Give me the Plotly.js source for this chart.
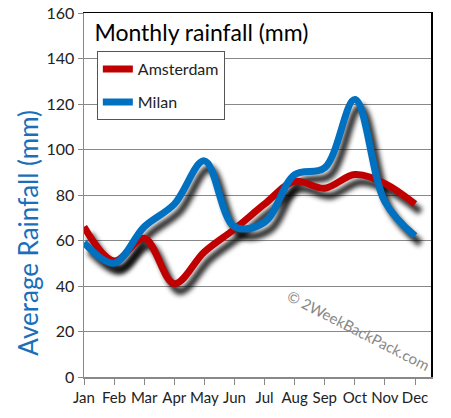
<!DOCTYPE html>
<html>
<head>
<meta charset="utf-8">
<script src="https://cdn.plot.ly/plotly-3.0.1.min.js"></script>
<style>html,body{margin:0;padding:0;background:#fff;}#chart{width:451px;height:418px;}</style>
</head>
<body>
<div id="chart"></div>
<script>
const months = ['Jan','Feb','Mar','Apr','May','Jun','Jul','Aug','Sep','Oct','Nov','Dec'];
const amsterdam = [66, 51, 61, 41, 55, 65, 76, 86, 83, 89, 85, 76];
const milan = [59, 50, 66, 76, 95, 66, 68, 89, 92, 122, 77, 62];
const seriesNames = ['Amsterdam', 'Milan'];
const yTicks = [0, 20, 40, 60, 80, 100, 120, 140, 160];

const RED = '#c00000', BLUE = '#0070c0';
const FONT = 'Lato, "Noto Sans", sans-serif';
const xr = [0, 11.53];
const yr = [0, 160];
const sdx = 0.18, sdy = 3.4; // shadow offset in axis units

function line(y, color, xa, ya, name, show, group) {
  return {x: months, y: y, type: 'scatter', mode: 'lines', name: name,
    xaxis: xa, yaxis: ya, showlegend: show, legendgroup: group,
    line: {color: color, width: 7, shape: 'spline', smoothing: 1},
    hoverinfo: 'skip'};
}

const base = line(amsterdam, 'rgba(0,0,0,0)', 'x', 'y', 'base', false, 'a');
base.line.width = 0;

const data = [
  base,
  line(amsterdam, 'rgba(0,0,0,0.85)', 'x2', 'y2', 'sa', false, 'a'),
  line(milan, 'rgba(0,0,0,0.85)', 'x2', 'y2', 'sm', false, 'b'),
  line(amsterdam, RED, 'x3', 'y3', seriesNames[0], true, 'a'),
  line(milan, BLUE, 'x3', 'y3', seriesNames[1], true, 'b')
];

const layout = {
  width: 451, height: 418,
  margin: {l: 84, r: 20, t: 13, b: 41},
  paper_bgcolor: '#fff', plot_bgcolor: '#fff',
  font: {family: FONT, color: '#222'},
  title: {text: 'Monthly rainfall (mm)', font: {family: FONT, size: 23, color: '#000'},
    xref: 'paper', yref: 'paper', x: 0.03, xanchor: 'left', y: 0.945, yanchor: 'middle'},
  xaxis: {type: 'category', categoryarray: months, range: xr, showgrid: false,
    showline: true, linecolor: '#888', linewidth: 1.5, ticks: 'outside', ticklen: 6,
    tickcolor: '#888', tickfont: {size: 15, color: '#222'}, fixedrange: true, automargin: false},
  yaxis: {range: yr, tickvals: yTicks, showgrid: true, gridcolor: '#888', gridwidth: 1,
    zeroline: false, showline: true, linecolor: '#888', linewidth: 1.5, ticks: 'outside',
    ticklen: 5, tickcolor: '#888', tickfont: {size: 16, color: '#222'},
    fixedrange: true, automargin: false},
  xaxis2: {type: 'category', categoryarray: months, overlaying: 'x', anchor: 'y2', side: 'top',
    range: [xr[0] - sdx, xr[1] - sdx], showgrid: false, showticklabels: false, ticks: '',
    showline: false, zeroline: false, automargin: false},
  yaxis2: {overlaying: 'y', anchor: 'x2', side: 'right', range: [yr[0] + sdy, yr[1] + sdy],
    showgrid: false, showticklabels: false, ticks: '', showline: false, zeroline: false, automargin: false},
  xaxis3: {type: 'category', categoryarray: months, overlaying: 'x', anchor: 'y3', side: 'top',
    range: xr, showgrid: false, showticklabels: false, ticks: '',
    showline: true, linecolor: '#000', linewidth: 1.5, zeroline: false, automargin: false},
  yaxis3: {overlaying: 'y', anchor: 'x3', side: 'right', range: yr,
    showgrid: false, showticklabels: false, ticks: '', showline: true, linecolor: '#000',
    linewidth: 1.5, zeroline: false, automargin: false},
  legend: {x: 0.037, y: 0.895, xanchor: 'left', yanchor: 'top', xref: 'paper', yref: 'paper',
    bgcolor: '#fff', bordercolor: '#555', borderwidth: 1, tracegroupgap: 9,
    font: {family: FONT, size: 16, color: '#222'}, traceorder: 'grouped'},
  annotations: [
    {text: 'Average Rainfall (mm)', xref: 'paper', yref: 'paper', x: -0.162, y: 0.396,
      xanchor: 'center', yanchor: 'middle', showarrow: false, textangle: -90,
      font: {family: FONT, size: 26, color: '#1a6fb8'}},
    {text: '© 2WeekBackPack.com', xref: 'paper', yref: 'paper', x: 0.79, y: 0.13,
      xanchor: 'center', yanchor: 'middle',
      showarrow: false, textangle: 27, font: {family: FONT, size: 15, color: '#888'}}],
  showlegend: true
};

Plotly.newPlot('chart', data, layout, {displayModeBar: false, staticPlot: true}).then(function () {
  const svg = document.querySelector('#chart .main-svg');
  const ns = 'http://www.w3.org/2000/svg';
  let defs = svg.querySelector('defs');
  if (!defs) { defs = document.createElementNS(ns, 'defs'); svg.insertBefore(defs, svg.firstChild); }
  const f = document.createElementNS(ns, 'filter');
  f.setAttribute('id', 'shadowblur');
  f.setAttribute('x', '-20%'); f.setAttribute('y', '-20%');
  f.setAttribute('width', '140%'); f.setAttribute('height', '140%');
  const b = document.createElementNS(ns, 'feGaussianBlur');
  b.setAttribute('stdDeviation', '2.4');
  f.appendChild(b);
  defs.appendChild(f);
  document.querySelectorAll('#chart .x2y2 .scatterlayer path.js-line').forEach(function (p) {
    p.setAttribute('filter', 'url(#shadowblur)');
  });
});
</script>
</body>
</html>
